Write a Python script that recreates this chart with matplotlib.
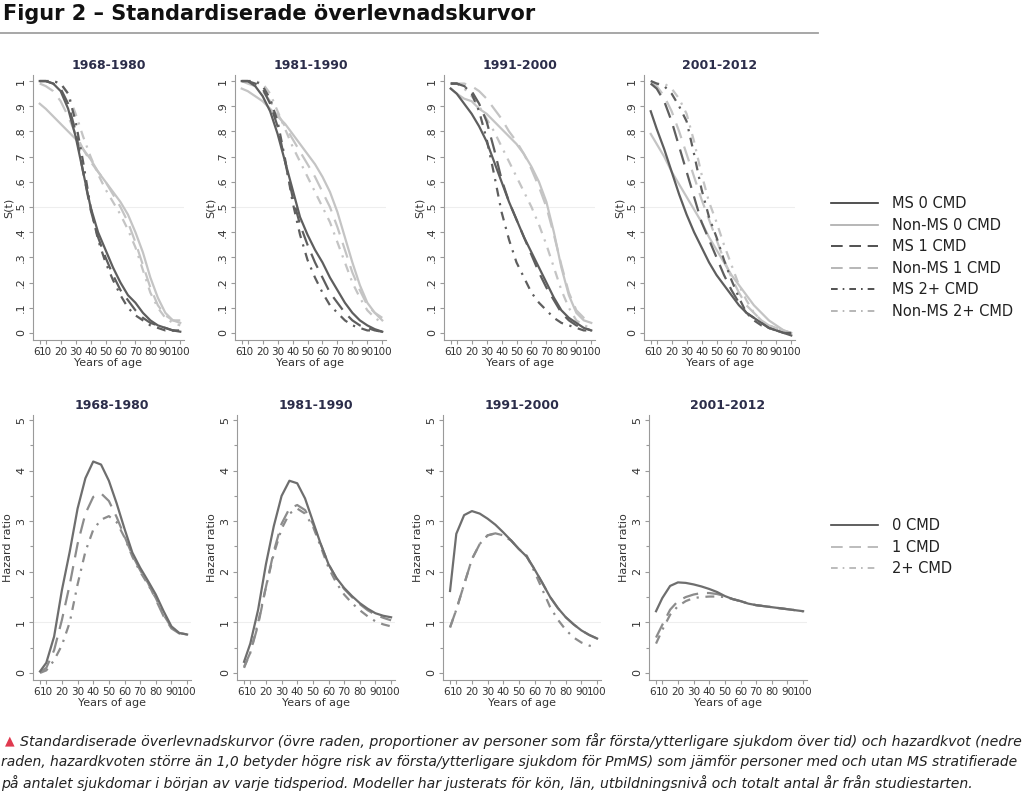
import matplotlib
matplotlib.use("Agg")
import matplotlib.pyplot as plt
from matplotlib.lines import Line2D
import numpy as np

ages = [6, 10, 15, 20, 25, 30, 35, 40, 45, 50, 55, 60, 65, 70, 75, 80, 85, 90, 95, 100]
periods = ["1968-1980", "1981-1990", "1991-2000", "2001-2012"]

# survival curves S(t), one list per group and period
ms0 = [
    [1.00, 1.00, 0.99, 0.96, 0.89, 0.78, 0.64, 0.50, 0.40, 0.33, 0.26, 0.20, 0.15, 0.12, 0.08, 0.05, 0.03, 0.02, 0.01, 0.005],
    [1.00, 1.00, 0.98, 0.94, 0.88, 0.79, 0.68, 0.57, 0.46, 0.39, 0.33, 0.28, 0.22, 0.17, 0.12, 0.08, 0.05, 0.03, 0.015, 0.005],
    [0.97, 0.95, 0.91, 0.87, 0.82, 0.76, 0.68, 0.60, 0.52, 0.45, 0.38, 0.32, 0.26, 0.20, 0.14, 0.09, 0.06, 0.04, 0.02, 0.01],
    [0.88, 0.81, 0.73, 0.64, 0.55, 0.47, 0.40, 0.34, 0.28, 0.23, 0.19, 0.15, 0.11, 0.08, 0.06, 0.04, 0.02, 0.01, 0.00, -0.01],
]
nonms0 = [
    [0.91, 0.89, 0.86, 0.83, 0.80, 0.77, 0.73, 0.69, 0.64, 0.60, 0.56, 0.52, 0.47, 0.40, 0.32, 0.22, 0.14, 0.08, 0.05, 0.04],
    [0.97, 0.96, 0.94, 0.92, 0.89, 0.86, 0.83, 0.79, 0.75, 0.71, 0.67, 0.62, 0.56, 0.48, 0.38, 0.28, 0.19, 0.12, 0.08, 0.05],
    [0.97, 0.95, 0.93, 0.92, 0.89, 0.87, 0.84, 0.81, 0.78, 0.75, 0.71, 0.66, 0.60, 0.52, 0.40, 0.26, 0.15, 0.08, 0.05, 0.04],
    [0.79, 0.75, 0.70, 0.64, 0.59, 0.54, 0.49, 0.44, 0.38, 0.33, 0.28, 0.23, 0.19, 0.15, 0.11, 0.08, 0.05, 0.03, 0.01, 0.00],
]
ms1 = [
    [1.00, 1.00, 0.99, 0.97, 0.91, 0.80, 0.64, 0.49, 0.38, 0.30, 0.23, 0.17, 0.13, 0.09, 0.06, 0.04, 0.03, 0.02, 0.01, 0.01],
    [1.00, 1.00, 0.99, 0.97, 0.91, 0.82, 0.68, 0.54, 0.43, 0.35, 0.28, 0.22, 0.16, 0.12, 0.08, 0.05, 0.03, 0.02, 0.01, 0.005],
    [0.99, 0.99, 0.98, 0.96, 0.91, 0.84, 0.73, 0.61, 0.52, 0.45, 0.38, 0.31, 0.24, 0.18, 0.13, 0.08, 0.05, 0.03, 0.02, 0.01],
    [0.99, 0.97, 0.92, 0.84, 0.74, 0.64, 0.54, 0.44, 0.37, 0.30, 0.23, 0.17, 0.12, 0.08, 0.06, 0.04, 0.02, 0.01, 0.00, 0.00],
]
nonms1 = [
    [0.99, 0.98, 0.96, 0.92, 0.86, 0.79, 0.73, 0.68, 0.64, 0.60, 0.55, 0.50, 0.44, 0.36, 0.27, 0.18, 0.11, 0.07, 0.05, 0.05],
    [1.00, 0.99, 0.98, 0.96, 0.92, 0.87, 0.82, 0.77, 0.72, 0.67, 0.62, 0.56, 0.50, 0.42, 0.33, 0.24, 0.17, 0.11, 0.08, 0.06],
    [0.99, 0.99, 0.99, 0.98, 0.96, 0.93, 0.89, 0.85, 0.80, 0.76, 0.71, 0.65, 0.58, 0.50, 0.39, 0.27, 0.16, 0.09, 0.06, 0.04],
    [0.99, 0.98, 0.94, 0.88, 0.80, 0.71, 0.62, 0.53, 0.45, 0.37, 0.29, 0.22, 0.16, 0.11, 0.08, 0.05, 0.03, 0.02, 0.01, 0.00],
]
ms2 = [
    [1.00, 1.00, 1.00, 0.99, 0.95, 0.84, 0.68, 0.50, 0.37, 0.28, 0.21, 0.15, 0.10, 0.07, 0.05, 0.03, 0.02, 0.01, 0.01, 0.005],
    [1.00, 1.00, 1.00, 0.98, 0.93, 0.84, 0.69, 0.52, 0.39, 0.29, 0.22, 0.16, 0.11, 0.08, 0.05, 0.03, 0.02, 0.01, 0.01, 0.005],
    [0.99, 0.99, 0.98, 0.95, 0.88, 0.77, 0.63, 0.48, 0.37, 0.28, 0.22, 0.16, 0.12, 0.09, 0.06, 0.04, 0.03, 0.02, 0.01, 0.01],
    [1.00, 0.99, 0.98, 0.95, 0.90, 0.84, 0.71, 0.57, 0.46, 0.38, 0.29, 0.21, 0.14, 0.08, 0.05, 0.03, 0.02, 0.01, 0.00, 0.00],
]
nonms2 = [
    [1.00, 1.00, 1.00, 0.99, 0.95, 0.87, 0.78, 0.70, 0.63, 0.57, 0.52, 0.47, 0.41, 0.34, 0.25, 0.16, 0.10, 0.06, 0.04, 0.03],
    [1.00, 1.00, 1.00, 0.99, 0.95, 0.88, 0.81, 0.74, 0.68, 0.62, 0.56, 0.50, 0.44, 0.36, 0.28, 0.20, 0.14, 0.09, 0.06, 0.04],
    [0.99, 0.99, 0.97, 0.94, 0.90, 0.85, 0.80, 0.74, 0.68, 0.62, 0.56, 0.50, 0.43, 0.35, 0.26, 0.17, 0.10, 0.05, 0.03, 0.02],
    [1.00, 0.99, 0.99, 0.97, 0.93, 0.87, 0.76, 0.63, 0.52, 0.44, 0.35, 0.27, 0.19, 0.13, 0.08, 0.05, 0.03, 0.02, 0.01, 0.00],
]

# hazard ratios MS vs non-MS
hr0 = [
    [0.03, 0.20, 0.72, 1.64, 2.40, 3.25, 3.85, 4.18, 4.12, 3.80, 3.35, 2.85, 2.38, 2.08, 1.82, 1.55, 1.22, 0.92, 0.79, 0.76],
    [0.22, 0.58, 1.25, 2.15, 2.90, 3.50, 3.80, 3.75, 3.45, 3.00, 2.55, 2.15, 1.88, 1.68, 1.52, 1.38, 1.27, 1.18, 1.13, 1.10],
    [1.62, 2.75, 3.12, 3.20, 3.15, 3.05, 2.93, 2.78, 2.62, 2.45, 2.30, 2.05, 1.78, 1.50, 1.28, 1.10, 0.96, 0.84, 0.75, 0.68],
    [1.22, 1.48, 1.72, 1.79, 1.78, 1.75, 1.71, 1.66, 1.60, 1.52, 1.46, 1.42, 1.37, 1.34, 1.32, 1.30, 1.28, 1.26, 1.24, 1.22],
]
hr1 = [
    [0.01, 0.10, 0.45, 1.05, 1.75, 2.55, 3.15, 3.48, 3.55, 3.40, 3.08, 2.70, 2.33, 2.03, 1.78, 1.45, 1.12, 0.88, 0.78, 0.76],
    [0.12, 0.40, 0.95, 1.70, 2.40, 2.95, 3.25, 3.32, 3.22, 2.95, 2.55, 2.15, 1.87, 1.66, 1.50, 1.36, 1.24, 1.15, 1.09, 1.04],
    [0.90, 1.25, 1.75, 2.25, 2.55, 2.72, 2.76, 2.72, 2.62, 2.45, 2.30, 2.05, 1.78, 1.50, 1.28, 1.10, 0.96, 0.84, 0.75, 0.68],
    [0.70, 0.95, 1.25, 1.42, 1.50, 1.55, 1.58, 1.58, 1.56, 1.52, 1.46, 1.42, 1.37, 1.34, 1.32, 1.30, 1.28, 1.26, 1.24, 1.22],
]
hr2 = [
    [0.00, 0.05, 0.25, 0.55, 1.00, 1.75, 2.40, 2.83, 3.03, 3.10, 2.98, 2.68, 2.30, 2.00, 1.75, 1.48, 1.15, 0.90, 0.79, 0.76],
    [0.10, 0.40, 1.00, 1.70, 2.35, 2.85, 3.15, 3.25, 3.15, 2.90, 2.50, 2.08, 1.78, 1.55, 1.38, 1.24, 1.12, 1.02, 0.96, 0.92],
    [0.90, 1.25, 1.75, 2.25, 2.55, 2.72, 2.76, 2.72, 2.62, 2.45, 2.32, 2.00, 1.65, 1.30, 1.05, 0.85, 0.70, 0.60, 0.54, 0.50],
    [0.58, 0.85, 1.15, 1.32, 1.42, 1.48, 1.50, 1.51, 1.51, 1.50, 1.46, 1.42, 1.37, 1.34, 1.32, 1.30, 1.28, 1.26, 1.24, 1.22],
]

x_ticks = [6, 10, 20, 30, 40, 50, 60, 70, 80, 90, 100]

W, H = 1024, 797
fig = plt.figure(figsize=(W / 100, H / 100), dpi=100)
plt.rcParams['font.family'] = ['DejaVu Sans']

dark = "#5e5e5e"
light = "#c4c4c4"
DASH = (7, 4)
DASHDOT = (4, 3, 1, 3)
navy = "#2b2d4a"


def px_axes(left, top, width, height):
    return fig.add_axes([left / W, 1 - (top + height) / H, width / W, height / H])


def style(ax, title):
    for s in ["top", "right"]:
        ax.spines[s].set_visible(False)
    for s in ["left", "bottom"]:
        ax.spines[s].set_color("#9a9a9a")
        ax.spines[s].set_linewidth(0.8)
    ax.set_xlim(1.5, 102.5)
    ax.set_xticks(x_ticks)
    ax.set_xticklabels([str(v) for v in x_ticks])
    ax.tick_params(axis="x", labelsize=7.5, colors="#9a9a9a", labelcolor="#333333", length=3, width=0.8, pad=2)
    ax.tick_params(axis="y", labelsize=8, colors="#9a9a9a", labelcolor="#333333", length=3, width=0.8,
                   labelrotation=90, pad=2)
    for lab in ax.get_yticklabels():
        lab.set_va("center")
    # "6" sits right up against "10", as in the original ("610")
    ax.get_xticklabels()[0].set_ha("right")
    ax.set_xlabel("Years of age", fontsize=8, color="#333333", labelpad=1)
    ax.set_title(title, fontsize=9, fontweight="bold", color=navy, pad=4)


# top row: survival curves
top_left = [33, 235, 444, 644]
for i, p in enumerate(periods):
    ax = px_axes(top_left[i], 75, 151, 265)
    ax.axhline(0.5, color="#eeeeee", lw=0.8, zorder=0)
    ax.plot(ages, nonms0[i], color=light, lw=1.6)
    ax.plot(ages, nonms1[i], color=light, lw=1.6, dashes=DASH)
    ax.plot(ages, nonms2[i], color=light, lw=1.6, dashes=DASHDOT)
    ax.plot(ages, ms0[i], color=dark, lw=1.6)
    ax.plot(ages, ms1[i], color=dark, lw=1.6, dashes=DASH)
    ax.plot(ages, ms2[i], color=dark, lw=1.6, dashes=DASHDOT)
    ax.set_ylim(-0.028, 1.024)
    yt = np.round(np.arange(0, 1.01, 0.1), 1)
    ax.set_yticks(yt)
    ax.set_yticklabels(["0"] + ["." + str(int(v * 10)) for v in yt[1:-1]] + ["1"])
    ax.set_ylabel("S(t)", fontsize=8, color="#333333", labelpad=2)
    style(ax, p)

# bottom row: hazard ratios
bot_left = [33, 237, 443, 649]
for i, p in enumerate(periods):
    ax = px_axes(bot_left[i], 415, 158, 265)
    ax.axhline(1, color="#eeeeee", lw=0.8, zorder=0)
    ax.plot(ages, hr2[i], color="#8c8c8c", lw=1.6, dashes=DASHDOT)
    ax.plot(ages, hr1[i], color="#8c8c8c", lw=1.6, dashes=DASH)
    ax.plot(ages, hr0[i], color="#6e6e6e", lw=1.6)
    ax.set_ylim(-0.14, 5.1)
    ax.set_yticks([0, 1, 2, 3, 4, 5])
    ax.set_yticks(np.arange(0.5, 5, 1.0), minor=True)
    ax.tick_params(axis="y", which="minor", length=2, colors="#9a9a9a", width=0.8)
    ax.set_ylabel("Hazard ratio", fontsize=8, color="#333333", labelpad=2)
    style(ax, p)

# legends
top_handles = [
    Line2D([], [], color="#333333", lw=1.2),
    Line2D([], [], color="#aaaaaa", lw=1.2),
    Line2D([], [], color="#333333", lw=1.2, dashes=DASH),
    Line2D([], [], color="#aaaaaa", lw=1.2, dashes=DASH),
    Line2D([], [], color="#333333", lw=1.2, dashes=DASHDOT),
    Line2D([], [], color="#aaaaaa", lw=1.2, dashes=DASHDOT),
]
top_labels = ["MS 0 CMD", "Non-MS 0 CMD", "MS 1 CMD", "Non-MS 1 CMD", "MS 2+ CMD", "Non-MS 2+ CMD"]
fig.legend(top_handles, top_labels, loc="upper left", bbox_to_anchor=(818 / W, 1 - 183 / H),
           frameon=False, fontsize=10.5, handlelength=3.2, handletextpad=1.0, labelspacing=0.45,
           labelcolor="#222222")

bot_handles = [
    Line2D([], [], color="#444444", lw=1.2),
    Line2D([], [], color="#b0b0b0", lw=1.2, dashes=DASH),
    Line2D([], [], color="#b0b0b0", lw=1.2, dashes=DASHDOT),
]
fig.legend(bot_handles, ["0 CMD", "1 CMD", "2+ CMD"], loc="upper left", bbox_to_anchor=(818 / W, 1 - 505 / H),
           frameon=False, fontsize=10.5, handlelength=3.2, handletextpad=1.0, labelspacing=0.45,
           labelcolor="#222222")

# heading
fig.text(3 / W, 1 - 14 / H, "Figur 2 – Standardiserade överlevnadskurvor", fontsize=15, fontweight="bold",
         color="#111111", va="center", ha="left")
fig.add_artist(Line2D([0, 818 / W], [1 - 33 / H, 1 - 33 / H], color="#a0a0a0", lw=1.3))

# caption
fig.text(5 / W, 1 - 741 / H, "▲", fontsize=9, color="#e0394f", va="center", ha="left")
caption = [
    "Standardiserade överlevnadskurvor (övre raden, proportioner av personer som får första/ytterligare sjukdom över tid) och hazardkvot (nedre",
    "raden, hazardkvoten större än 1,0 betyder högre risk av första/ytterligare sjukdom för PmMS) som jämför personer med och utan MS stratifierade",
    "på antalet sjukdomar i början av varje tidsperiod. Modeller har justerats för kön, län, utbildningsnivå och totalt antal år från studiestarten.",
]
cap_x = [20, 1, 1]
cap_y = [741, 762, 783]
cap_w = [1000, 1019, 968]
renderer = fig.canvas.get_renderer()
for line, x, y, w in zip(caption, cap_x, cap_y, cap_w):
    t = fig.text(x / W, 1 - y / H, line, fontsize=11, style="italic", color="#222222", va="center", ha="left",
                 family=["Liberation Sans Narrow", "DejaVu Sans"])
    ext = t.get_window_extent(renderer)
    t.set_fontsize(11 * w / ext.width)

fig.savefig("out.png", dpi=100)
